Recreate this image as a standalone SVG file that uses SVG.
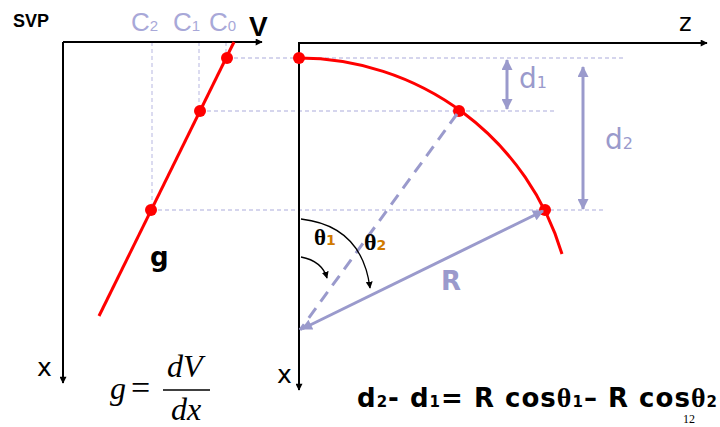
<svg xmlns="http://www.w3.org/2000/svg" width="720" height="427" viewBox="0 0 720 427">
<defs>
<style>
.ax{stroke:#000;stroke-width:2;fill:none}
.dot{stroke:#c8c8e8;stroke-width:1.3;stroke-dasharray:4,3;fill:none}
.red{stroke:#ff0000;stroke-width:3;fill:none}
.pt{fill:#ff0000}
.pur{stroke:#9a9acc;stroke-width:3;fill:none}
.ang{stroke:#000;stroke-width:1.3;fill:none}
.sans{font-family:"Liberation Sans",Arial,sans-serif}
.dj{font-family:"DejaVu Sans",Verdana,sans-serif}
.bold{font-family:"DejaVu Sans",Verdana,sans-serif;font-weight:bold}
.serif{font-family:"Liberation Serif","Times New Roman",serif}
.lav{fill:#a8a8d8}
.pl{fill:#9a9acc}
.or{fill:#d07a00}
</style>
<marker id="ah" viewBox="0 0 10 10" refX="9" refY="5" markerWidth="8" markerHeight="7" markerUnits="userSpaceOnUse" orient="auto-start-reverse"><path d="M0,0 L10,5 L0,10 z" fill="#000"/></marker>
<marker id="ahs" viewBox="0 0 10 10" refX="9" refY="5" markerWidth="7" markerHeight="7" markerUnits="userSpaceOnUse" orient="auto"><path d="M0,0 L10,5 L0,10 z" fill="#000"/></marker>
<marker id="ap" viewBox="0 0 10 10" refX="9" refY="5" markerWidth="14" markerHeight="11" markerUnits="userSpaceOnUse" orient="auto-start-reverse"><path d="M0,0 L10,5 L0,10 z" fill="#9a9acc"/></marker>
</defs>
<rect width="720" height="427" fill="#fff"/>

<g id="guides">
<line class="dot" x1="152" y1="42" x2="152" y2="210"/>
<line class="dot" x1="199" y1="42" x2="199" y2="111"/>
<line class="dot" x1="226" y1="42" x2="226" y2="58"/>
<line class="dot" x1="227" y1="58" x2="623" y2="58"/>
<line class="dot" x1="200" y1="111" x2="555" y2="111"/>
<line class="dot" x1="151" y1="210" x2="605" y2="210"/>
</g>

<g id="svp-axes">
<path class="ax" d="M63,42 L63,383" marker-end="url(#ah)"/>
<path class="ax" d="M63,42 L262,42" marker-end="url(#ah)"/>
<text x="13" y="27" class="sans" font-weight="bold" font-size="18">SVP</text>
<text x="131" y="31" class="sans lav" font-size="26">C<tspan font-size="15">2</tspan></text>
<text x="173" y="31" class="sans lav" font-size="26">C<tspan font-size="15">1</tspan></text>
<text x="209" y="31" class="sans lav" font-size="26">C<tspan font-size="15">0</tspan></text>
<text x="249" y="36" class="sans" font-weight="bold" font-size="28">V</text>
<text x="37" y="376" class="dj" font-size="25">x</text>
</g>

<g id="svp-line">
<line class="red" x1="234" y1="42" x2="99" y2="316"/>
<circle class="pt" cx="227" cy="58" r="6"/>
<circle class="pt" cx="200" cy="111" r="6"/>
<circle class="pt" cx="151" cy="210" r="6"/>
<text x="150" y="266" class="bold" font-size="26">g</text>
</g>

<g id="formula-g" class="serif" font-style="italic" font-size="32">
<text x="110" y="399">g</text>
<text x="131" y="399" font-style="normal" font-size="34">=</text>
<text x="167" y="377">dV</text>
<line x1="163" y1="390" x2="210" y2="390" stroke="#000" stroke-width="1.5"/>
<text x="171" y="420">dx</text>
</g>

<g id="ray-axes">
<path class="ax" d="M299,42 L299,390" marker-end="url(#ah)"/>
<path class="ax" d="M299,43 L707,43" marker-end="url(#ah)"/>
<text x="679" y="31" class="dj" font-size="24">z</text>
<text x="277" y="383" class="dj" font-size="25">x</text>
</g>

<g id="wavefront">
<path class="red" d="M299,58 A275,275 0 0 1 562,254"/>
<circle class="pt" cx="299" cy="58" r="6"/>
<circle class="pt" cx="459" cy="111" r="6"/>
<circle class="pt" cx="545" cy="210" r="6"/>
</g>

<g id="connectors">
<line class="pur" x1="457" y1="114" x2="300" y2="330" stroke-dasharray="12,8"/>
<line class="pur" x1="302" y1="329" x2="543" y2="211" marker-start="url(#ap)" marker-end="url(#ap)"/>
<line class="pur" x1="507" y1="60" x2="507" y2="109" marker-start="url(#ap)" marker-end="url(#ap)"/>
<line class="pur" x1="583" y1="67" x2="583" y2="209" marker-start="url(#ap)" marker-end="url(#ap)"/>
<path class="ang" d="M301,219 Q362,226 370,288" marker-end="url(#ahs)"/>
<path class="ang" d="M301,257 Q322,261 327,278" marker-end="url(#ahs)"/>
</g>

<g id="labels">
<text x="519" y="88" class="dj pl" font-size="28">d<tspan font-size="16">1</tspan></text>
<text x="605" y="149" class="dj pl" font-size="28">d<tspan font-size="16">2</tspan></text>
<text x="441" y="290" class="bold pl" font-size="26">R</text>
<text x="314" y="245" class="serif" font-weight="bold" font-size="23">θ<tspan class="bold or" font-size="14">1</tspan></text>
<text x="364" y="250" class="serif" font-weight="bold" font-size="24">θ<tspan class="bold or" font-size="14">2</tspan></text>
</g>

<g id="equation">
<text x="357" y="407" class="bold" font-size="26" textLength="360" lengthAdjust="spacing">d<tspan font-size="15">2</tspan>- d<tspan font-size="15">1</tspan>= R cos<tspan class="serif" font-size="28">θ</tspan><tspan font-size="15">1</tspan>– R cos<tspan class="serif" font-size="28">θ</tspan><tspan font-size="15">2</tspan></text>
<text x="683" y="423" class="serif" font-size="12">12</text>
</g>
</svg>
